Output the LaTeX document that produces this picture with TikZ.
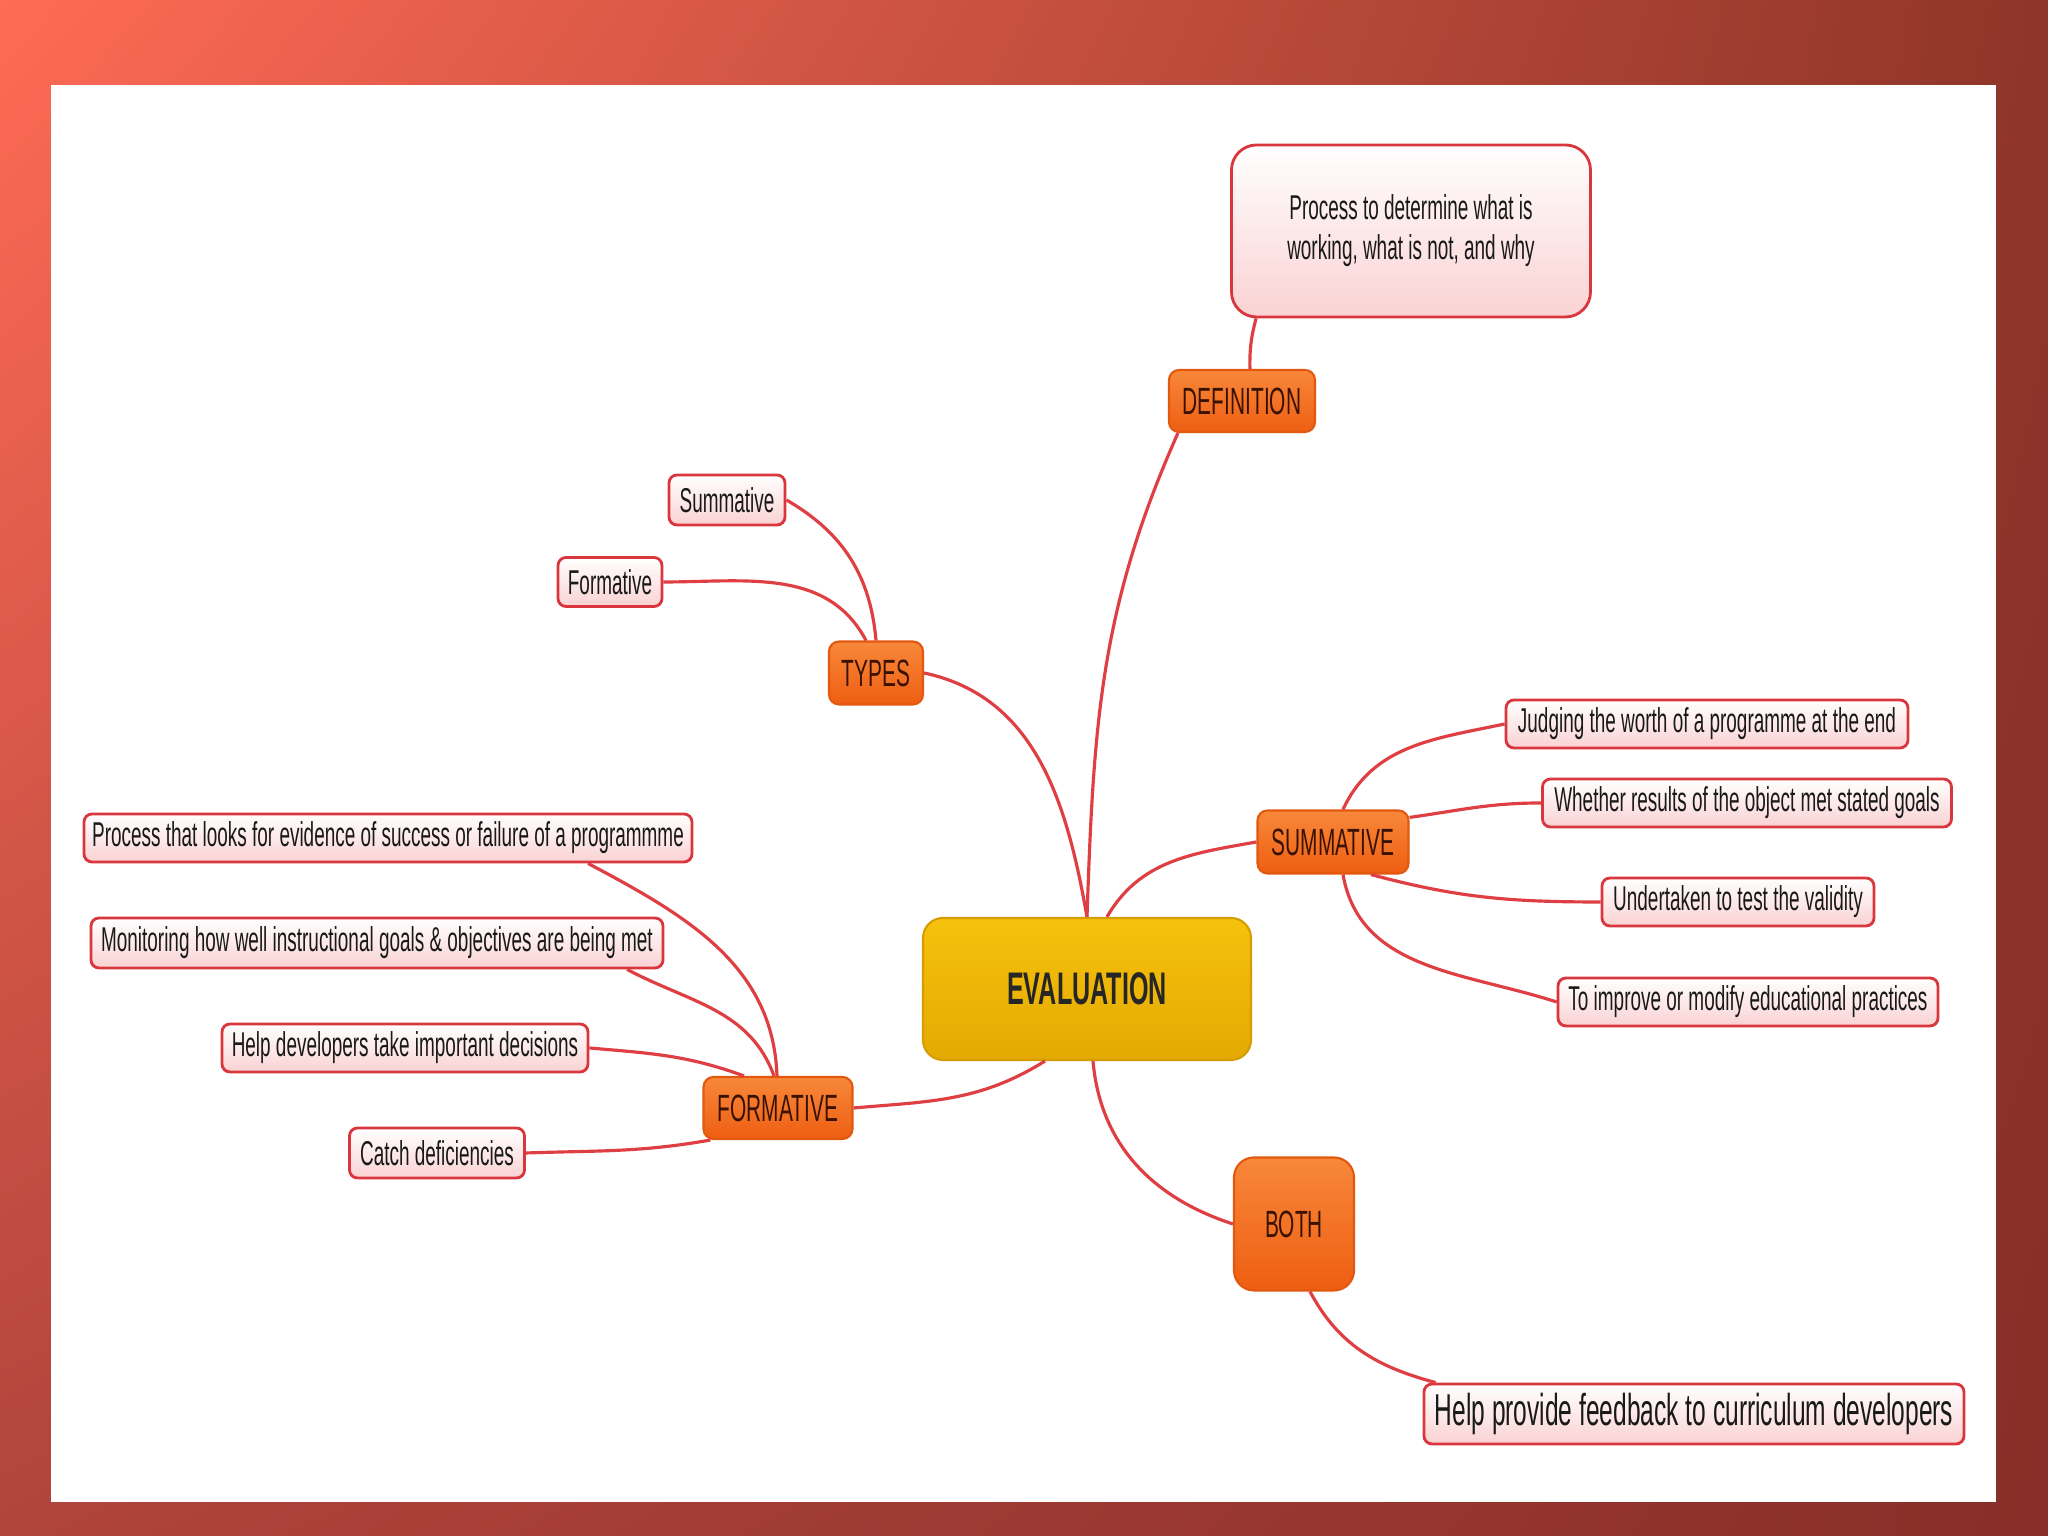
\documentclass[tikz,border=0pt]{standalone}
\usepackage{fontspec}
\setmainfont{Liberation Sans}[FakeStretch=0.55]
\usepackage{tikz}
\usetikzlibrary{shadings}

\definecolor{bgtl}{HTML}{FF6B55}
\definecolor{bgtr}{HTML}{8F3529}
\definecolor{bgbl}{HTML}{B0443C}
\definecolor{bgbr}{HTML}{882E28}
\definecolor{linkred}{HTML}{DF3F42}
\definecolor{leafline}{HTML}{D9363E}
\definecolor{leafpink}{HTML}{FAD2D3}
\definecolor{branchtop}{HTML}{F8883A}
\definecolor{branchbot}{HTML}{EE5E12}
\definecolor{branchline}{HTML}{E2580F}
\definecolor{branchtext}{HTML}{3A1204}
\definecolor{evaltop}{HTML}{F6C20C}
\definecolor{evalbot}{HTML}{E4A902}
\definecolor{evalline}{HTML}{D59D00}

\tikzset{
  leaf/.style={draw=leafline, line width=0.8pt, rounded corners=0.08cm,
    top color=white, bottom color=leafpink, text=black!90,
    font=\fontsize{9.8}{11.4}\selectfont, minimum height=0.48cm, inner sep=0pt},
  branch/.style={draw=branchline, line width=0.6pt, rounded corners=0.1cm,
    top color=branchtop, bottom color=branchbot, text=branchtext,
    font=\fontsize{10.8}{13}\selectfont, minimum height=0.62cm, inner sep=0pt},
  link/.style={draw=linkred, line width=0.9pt},
}

\begin{document}
\begin{tikzpicture}
\useasboundingbox (0,0) rectangle (20.48,15.36);
\shade[upper left=bgtl, upper right=bgtr, lower left=bgbl, lower right=bgbr] (0,0) rectangle (20.48,15.36);
\fill[white] (0.51,0.34) rectangle (19.96,14.51);

\node[draw=evalline, line width=0.6pt, rounded corners=0.2cm, top color=evaltop, bottom color=evalbot,
  minimum width=3.28cm, minimum height=1.42cm, font=\fontsize{13}{16}\selectfont\bfseries, text=black!85] (eval) at (10.87,5.47) {EVALUATION};

\node[branch, minimum width=1.46cm] (defn) at (12.42,11.35) {DEFINITION};
\node[leaf, rounded corners=0.25cm, minimum width=3.59cm, minimum height=1.72cm, align=center] (defntext) at (14.11,13.05) {Process to determine what is\\working, what is not, and why};

\node[branch, minimum width=0.94cm, minimum height=0.63cm] (types) at (8.76,8.63) {TYPES};
\node[leaf, minimum width=1.16cm, minimum height=0.50cm] (typsum) at (7.27,10.36) {Summative};
\node[leaf, minimum width=1.04cm, minimum height=0.49cm] (typform) at (6.10,9.54) {Formative};

\node[branch, minimum width=1.51cm, minimum height=0.63cm] (summ) at (13.33,6.94) {SUMMATIVE};
\node[leaf, minimum width=4.02cm] (sum1) at (17.07,8.12) {Judging the worth of a programme at the end};
\node[leaf, minimum width=4.09cm] (sum2) at (17.47,7.33) {Whether results of the object met stated goals};
\node[leaf, minimum width=2.72cm] (sum3) at (17.38,6.34) {Undertaken to test the validity};
\node[leaf, minimum width=3.80cm] (sum4) at (17.48,5.34) {To improve or modify educational practices};

\node[branch, minimum width=1.49cm] (form) at (7.78,4.28) {FORMATIVE};
\node[leaf, minimum width=6.08cm] (form1) at (3.88,6.98) {Process that looks for evidence of success or failure of a programmme};
\node[leaf, minimum width=5.72cm, minimum height=0.50cm] (form2) at (3.77,5.93) {Monitoring how well instructional goals \& objectives are being met};
\node[leaf, minimum width=3.66cm] (form3) at (4.05,4.88) {Help developers take important decisions};
\node[leaf, minimum width=1.75cm, minimum height=0.50cm] (form4) at (4.37,3.83) {Catch deficiencies};

\node[branch, rounded corners=0.2cm, minimum width=1.20cm, minimum height=1.33cm] (both) at (12.94,3.12) {BOTH};
\node[leaf, minimum width=5.40cm, minimum height=0.60cm, font=\fontsize{12.7}{15}\selectfont] (both1) at (16.94,1.22) {Help provide feedback to curriculum developers};

\draw[link] (eval.north) to[out=88,in=246] ([xshift=0.1cm]defn.south west);
\draw[link] ([xshift=0.82cm]defn.north west) to[bend left=8] ([xshift=0.26cm]defntext.south west);
\draw[link] (types.east) to[out=-12,in=100] (eval.north);
\draw[link] (types.north) to[out=95,in=-30] (typsum.east);
\draw[link] (typform.east) to[out=0,in=118] ([xshift=-0.1cm]types.north);
\draw[link] ([xshift=0.2cm]eval.north) to[out=60,in=190] (summ.west);
\draw[link] ([xshift=0.1cm]summ.north) to[out=65,in=192] (sum1.west);
\draw[link] ([yshift=-0.08cm]summ.north east) to[out=8,in=180] (sum2.west);
\draw[link] ([xshift=0.38cm]summ.south) to[out=-15,in=180] (sum3.west);
\draw[link] ([xshift=0.1cm]summ.south) to[out=-80,in=162] (sum4.west);
\draw[link] (form.east) to[out=5,in=-148] ([xshift=-0.42cm]eval.south);
\draw[link] ([xshift=2cm]form1.south) to[out=-28,in=92] ([xshift=-0.01cm]form.north);
\draw[link] ([xshift=2.5cm]form2.south) to[out=-28,in=110] ([xshift=-0.04cm]form.north);
\draw[link] (form3.east) to[out=-5,in=160] ([xshift=-0.34cm]form.north);
\draw[link] (form4.east) to[out=2,in=190] ([xshift=0.08cm]form.south west);
\draw[link] ([xshift=0.06cm]eval.south) to[out=-85,in=162] (both.west);
\draw[link] ([xshift=0.16cm]both.south) to[out=-62,in=165] ([xshift=0.13cm]both1.north west);
\end{tikzpicture}
\end{document}
